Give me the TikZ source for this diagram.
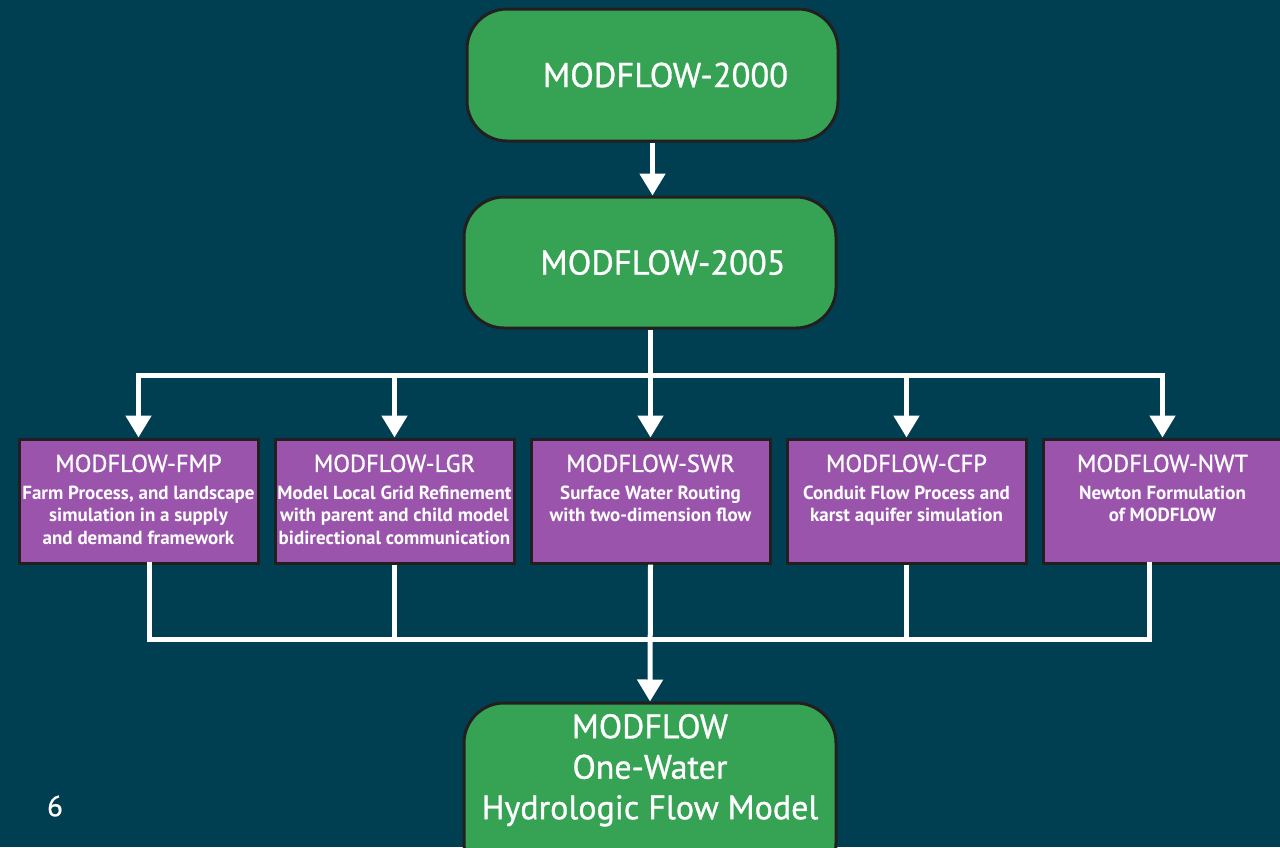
\documentclass[tikz,border=0pt]{standalone}
\usepackage{fontspec}
\setmainfont{PT Sans}
\newfontfamily\medfont[FakeBold=0.9]{PT Sans}
\usetikzlibrary{arrows.meta}
\definecolor{bg}{RGB}{0,63,81}
\definecolor{gfill}{RGB}{54,162,84}
\definecolor{pfill}{RGB}{154,84,172}
\definecolor{bdr}{RGB}{35,31,32}
\newcommand{\ptitle}[1]{{\medfont\fontsize{24.5}{27}\selectfont #1\par}\vspace{5pt}}
\newcommand{\pdesc}{\fontsize{19}{22.5}\selectfont\bfseries}
\begin{document}
\begin{tikzpicture}[x=1pt,y=-1pt,
  gbox/.style={draw=bdr, line width=3pt, fill=gfill, rounded corners=40pt,
    minimum width=372pt, minimum height=131pt, inner sep=0pt, text=white,
    font=\medfont\fontsize{34.5}{40}\selectfont},
  pbox/.style={draw=bdr, line width=3pt, fill=pfill, minimum width=239pt,
    minimum height=124pt, inner sep=0pt, text=white},
  conn/.style={draw=white, line width=5pt},
  arr/.style={conn, -{Triangle[width=25pt,length=22pt]}}]
\fill[bg] (0,0) rectangle (1280,847);
\useasboundingbox (0,0) rectangle (1280,847);

\node[gbox, minimum width=371pt, minimum height=132pt] (g1) at (652.5,75) {\hspace*{26pt}MODFLOW-2000};
\node[gbox] (g2) at (650,262.5) {\hspace*{26pt}MODFLOW-2005};

\node[pbox] (fmp) at (138.5,501) {\parbox[c][124pt][t]{239pt}{\centering\vspace*{15.5pt}%
  \ptitle{MODFLOW-FMP}{\pdesc Farm Process, and landscape\\ simulation in a supply\\ and demand framework\par}}};
\node[pbox] (lgr) at (394.5,501) {\parbox[c][124pt][t]{239pt}{\centering\vspace*{15.5pt}%
  \ptitle{MODFLOW-LGR}{\pdesc Model Local Grid Refinement\\ with parent and child model\\ bidirectional communication\par}}};
\node[pbox] (swr) at (650.5,501) {\parbox[c][124pt][t]{239pt}{\centering\vspace*{15.5pt}%
  \ptitle{MODFLOW-SWR}{\pdesc Surface Water Routing\\ with two-dimension flow\par}}};
\node[pbox] (cfp) at (906.5,501) {\parbox[c][124pt][t]{239pt}{\centering\vspace*{15.5pt}%
  \ptitle{MODFLOW-CFP}{\pdesc Conduit Flow Process and\\ karst aquifer simulation\par}}};
\node[pbox] (nwt) at (1162.5,501) {\parbox[c][124pt][t]{239pt}{\centering\vspace*{15.5pt}%
  \ptitle{MODFLOW-NWT}{\pdesc Newton Formulation\\ of MODFLOW\par}}};

\node[gbox, minimum height=180pt] (g3) at (650,793) {\parbox[c][180pt][t]{372pt}{\centering\vspace*{11pt}%
  \fontsize{34}{40.5}\selectfont MODFLOW\\ One-Water\\ Hydrologic Flow Model\par}};

\node[text=white, font=\medfont\fontsize{29}{32}\selectfont] (pg) at (55,806) {6};

% connectors
\draw[arr] (g1.south) -- (g1.south |- g2.north);
\coordinate (split) at (650,375.5);
\draw[conn] (g2.south) -- (split);
\draw[conn, line cap=rect] (fmp.north |- split) -- (nwt.north |- split);
\foreach \b in {fmp,lgr,swr,cfp,nwt} \draw[arr] (\b.north |- split) -- (\b.north);

\coordinate (join) at (650,639.5);
\coordinate (jl) at ([xshift=10.5pt]fmp.south);
\coordinate (jr) at ([xshift=-13.5pt]nwt.south);
\draw[conn, line cap=rect] (jl) |- (jr |- join) -- (jr);
\draw[conn] (lgr.south) -- (lgr.south |- join);
\draw[conn] (cfp.south) -- (cfp.south |- join);
\draw[arr] (swr.south) -- (g3.north);
\end{tikzpicture}
\end{document}
